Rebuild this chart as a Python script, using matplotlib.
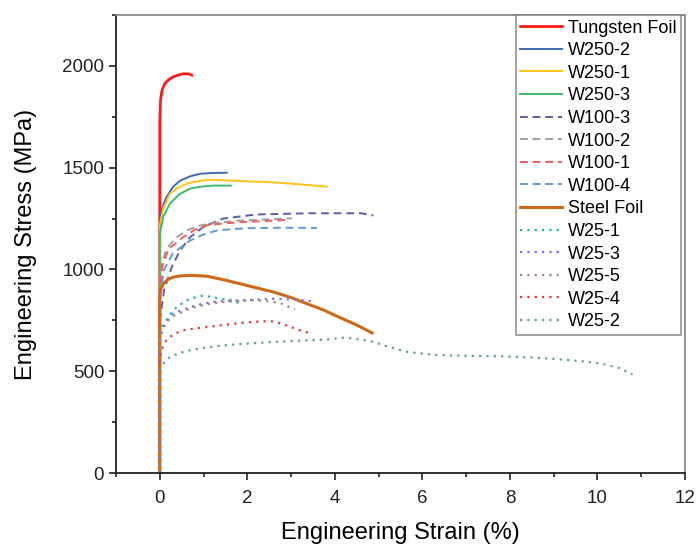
import matplotlib.pyplot as plt
import numpy as np

plt.rcParams['font.family'] = ['Liberation Sans', 'DejaVu Sans']

# strain (%) / stress (MPa)
tungsten_x = [0, 0, 0.015, 0.05, 0.11, 0.2, 0.3, 0.42, 0.53, 0.65, 0.73]
tungsten_y = [0, 1725, 1828, 1880, 1912, 1932, 1946, 1955, 1961, 1961, 1955]

w250_2_x = [0, 0, 0.05, 0.15, 0.3, 0.46, 0.7, 0.92, 1.2, 1.53]
w250_2_y = [0, 1250, 1300, 1354, 1405, 1436, 1458, 1470, 1474, 1475]

w250_1_x = [0, 0, 0.08, 0.23, 0.4, 0.61, 0.85, 1.14, 1.67, 2.1, 2.59, 3.2, 3.82]
w250_1_y = [0, 1220, 1300, 1372, 1400, 1421, 1433, 1441, 1436, 1432, 1428, 1418, 1407]

w250_3_x = [0, 0, 0.08, 0.23, 0.45, 0.69, 0.95, 1.22, 1.62]
w250_3_y = [0, 1178, 1260, 1323, 1370, 1397, 1407, 1412, 1412]

w100_3_x = [0, 0, 0.1, 0.27, 0.46, 0.69, 1.0, 1.45, 2.2, 3.4, 4.6, 4.88]
w100_3_y = [0, 750, 900, 1010, 1093, 1158, 1210, 1250, 1270, 1276, 1276, 1265]

w100_2_x = [0, 0, 0.05, 0.15, 0.38, 0.65, 0.92, 1.3, 1.83, 2.4, 3.02]
w100_2_y = [0, 930, 1030, 1100, 1158, 1195, 1216, 1230, 1240, 1246, 1251]

w100_1_x = [0, 0, 0.05, 0.2, 0.53, 0.8, 1.07, 1.4, 1.83, 2.4, 2.9]
w100_1_y = [0, 900, 1010, 1100, 1158, 1195, 1216, 1225, 1232, 1238, 1243]

w100_4_x = [0, 0, 0.1, 0.3, 0.69, 1.0, 1.3, 1.7, 2.21, 2.9, 3.59]
w100_4_y = [0, 880, 1000, 1080, 1142, 1172, 1191, 1199, 1204, 1205, 1204]

steel_x = [0, 0, 0.03, 0.08, 0.18, 0.3, 0.45, 0.69, 1.07, 1.45, 1.83, 2.2, 2.6, 3.0, 3.36, 3.75, 4.12, 4.5, 4.85]
steel_y = [0, 872, 905, 930, 950, 962, 968, 971, 967, 950, 930, 910, 889, 862, 832, 800, 763, 727, 688]

w25_1_x = [0, 0, 0.05, 0.15, 0.3, 0.45, 0.61, 0.8, 0.99, 1.15, 1.3, 1.6, 1.75, 1.87]
w25_1_y = [0, 686, 720, 750, 799, 825, 848, 862, 872, 866, 859, 851, 842, 823]

w25_3_x = [0, 0, 0.05, 0.15, 0.3, 0.5, 0.69, 0.95, 1.22, 1.5, 1.83, 2.2, 2.6, 3.1, 3.55]
w25_3_y = [0, 640, 700, 745, 783, 800, 815, 830, 840, 845, 848, 852, 856, 852, 843]

w25_5_x = [0, 0, 0.05, 0.15, 0.3, 0.55, 0.8, 1.1, 1.45, 1.8, 2.21, 2.5, 2.75, 3.09]
w25_5_y = [0, 650, 700, 740, 770, 795, 815, 830, 840, 845, 848, 843, 835, 804]

w25_4_x = [0, 0, 0.05, 0.15, 0.3, 0.53, 0.8, 1.07, 1.45, 1.83, 2.2, 2.52, 2.7, 2.9, 3.15, 3.4]
w25_4_y = [0, 560, 610, 652, 680, 701, 710, 717, 727, 737, 743, 747, 738, 725, 705, 688]

w25_2_x = [0, 0, 0.05, 0.23, 0.45, 0.69, 1.0, 1.45, 2.0, 2.6, 3.2, 3.74, 4.24, 4.6, 4.88, 5.2, 5.65,
           6.26, 7.0, 7.79, 8.4, 8.93, 9.5, 10.08, 10.5, 10.8]
w25_2_y = [0, 505, 530, 570, 590, 603, 615, 627, 636, 644, 650, 655, 665, 655, 644, 622, 595,
           580, 576, 573, 568, 562, 552, 538, 515, 485]

dash = (0, (4, 2.5))
dot = (0, (1, 2.3))
curves = [
    ('Tungsten Foil', tungsten_x, tungsten_y, '#ff1a1a', '-', 2.0),
    ('W250-2', w250_2_x, w250_2_y, '#3d6cb0', '-', 1.4),
    ('W250-1', w250_1_x, w250_1_y, '#ffc21a', '-', 1.4),
    ('W250-3', w250_3_x, w250_3_y, '#3dbb6a', '-', 1.4),
    ('W100-3', w100_3_x, w100_3_y, '#5c5ca8', dash, 1.4),
    ('W100-2', w100_2_x, w100_2_y, '#a0a0a0', dash, 1.4),
    ('W100-1', w100_1_x, w100_1_y, '#f25b5b', dash, 1.4),
    ('W100-4', w100_4_x, w100_4_y, '#5a9ad6', dash, 1.4),
    ('Steel Foil', steel_x, steel_y, '#cc6a1a', '-', 2.2),
    ('W25-1', w25_1_x, w25_1_y, '#26b3b3', dot, 1.6),
    ('W25-3', w25_3_x, w25_3_y, '#7a6ee6', dot, 1.6),
    ('W25-5', w25_5_x, w25_5_y, '#a08a80', dot, 1.6),
    ('W25-4', w25_4_x, w25_4_y, '#e33a3a', dot, 1.6),
    ('W25-2', w25_2_x, w25_2_y, '#5f9e9e', dot, 1.6),
]

fig = plt.figure(figsize=(6.96, 5.44), dpi=100)
ax = fig.add_axes([0.1667, 0.1305, 0.8175, 0.8419])

for label, x, y, color, ls, lw in curves:
    ax.plot(x, y, color=color, linestyle=ls, linewidth=lw, label=label)

ax.set_xlim(-1, 12)
ax.set_ylim(0, 2250)
ax.set_xticks(np.arange(0, 13, 2))
ax.set_xticks(np.arange(-1, 13, 1), minor=True)
ax.set_yticks(np.arange(0, 2001, 500))
ax.set_yticks(np.arange(0, 2251, 250), minor=True)
ax.tick_params(which='major', direction='out', length=5, width=1.2, labelsize=13.5, colors='#222222')
ax.tick_params(which='minor', direction='out', length=3, width=1.2, colors='#222222')
ax.tick_params(axis='x', pad=7)

for side in ['left', 'bottom']:
    ax.spines[side].set_linewidth(1.3)
    ax.spines[side].set_color('#222222')
for side in ['top', 'right']:
    ax.spines[side].set_linewidth(1.3)
    ax.spines[side].set_color('#888888')

ax.set_xlabel('Engineering Strain (%)', fontsize=17, labelpad=11)
ax.set_ylabel('Engineering Stress (MPa)', fontsize=17, labelpad=18)

leg = ax.legend(loc='upper right', bbox_to_anchor=(0.993, 1.0), fontsize=13, frameon=True,
                fancybox=False, edgecolor='#777777', handlelength=2.3, handletextpad=0.35,
                labelspacing=0.31, borderpad=0.25, borderaxespad=0.0)
leg.get_frame().set_linewidth(1.2)

fig.savefig('out.png', dpi=100)
